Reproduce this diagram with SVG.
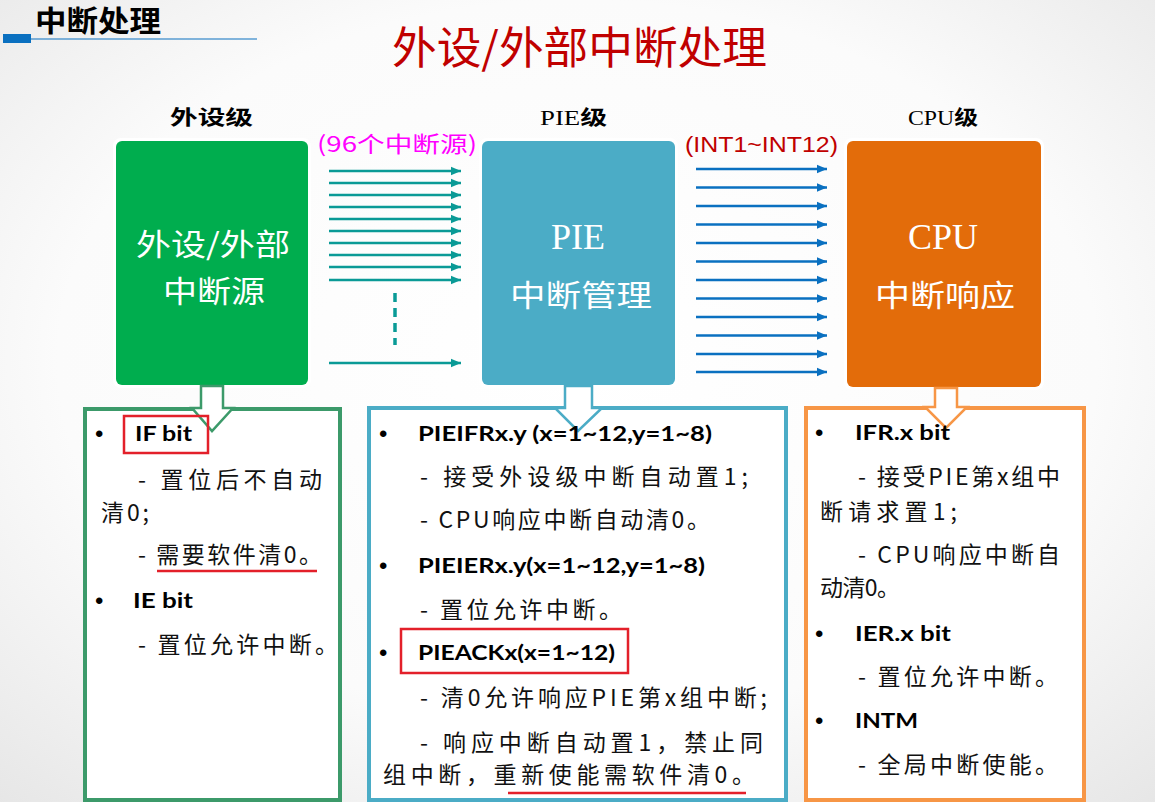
<svg xmlns="http://www.w3.org/2000/svg" width="1155" height="802" viewBox="0 0 1155 802">
<defs>
  <radialGradient id="bg" cx="0.5" cy="0.45" r="0.75">
    <stop offset="0" stop-color="#ffffff"/>
    <stop offset="0.6" stop-color="#fbfbfb"/>
    <stop offset="1" stop-color="#e6e6e6"/>
  </radialGradient>
  <marker id="ah-teal" markerUnits="userSpaceOnUse" markerWidth="10" markerHeight="10" refX="10" refY="5" orient="auto">
    <path d="M0,0.8 L10,5 L0,9.2 z" fill="#0a9a96"/>
  </marker>
  <marker id="ah-blue" markerUnits="userSpaceOnUse" markerWidth="10" markerHeight="10" refX="10" refY="5" orient="auto">
    <path d="M0,0.8 L10,5 L0,9.2 z" fill="#0a70c0"/>
  </marker>
</defs>
<style>
  .cjk { font-family: "Noto Sans CJK SC", sans-serif; }
  .lvl { font-family: "Liberation Serif", "Noto Sans CJK SC", serif; font-size: 20px; fill: #000; }
  .big { font-family: "Noto Sans CJK SC", sans-serif; fill: #fff; font-size: 30px; text-anchor: middle; }
  .bigser { font-family: "Liberation Serif", serif; fill: #fff; font-size: 36px; text-anchor: middle; }
  .hd { font-family: "Lato", "Liberation Sans", sans-serif; font-weight: bold; font-size: 21px; fill: #000; }
  .bl { font-family: "Liberation Sans", sans-serif; font-size: 24px; fill: #000; }
  .tx { font-family: "Noto Sans CJK SC", sans-serif; font-size: 23px; fill: #111; }
  .teal { stroke: #0a9a96; stroke-width: 2.5; fill: none; marker-end: url(#ah-teal); }
  .blue { stroke: #0a70c0; stroke-width: 2.5; fill: none; marker-end: url(#ah-blue); }
  .redbox { fill: none; stroke: #e3202a; stroke-width: 2.5; }
  .redline { stroke: #e3202a; stroke-width: 2.5; }
</style>
<rect x="0" y="0" width="1155" height="802" fill="url(#bg)"/>

<g id="header">
  <rect x="3" y="34" width="28" height="9" fill="#0a70c0"/>
  <line x1="31" y1="39" x2="257" y2="39" stroke="#0a70c0" stroke-width="1.2"/>
  <text x="35" y="32" class="cjk" font-size="29" font-weight="bold" fill="#000" textLength="126" lengthAdjust="spacingAndGlyphs">中断处理</text>
</g>

<g id="title">
  <text x="392" y="64" class="cjk" font-size="44" fill="#c00000" textLength="375" lengthAdjust="spacingAndGlyphs">外设/外部中断处理</text>
</g>

<g id="level-labels">
  <text x="170" y="125" class="lvl" font-weight="bold" textLength="83" lengthAdjust="spacingAndGlyphs">外设级</text>
  <text x="540" y="125" class="lvl" textLength="67" lengthAdjust="spacingAndGlyphs">PIE<tspan font-weight="bold">级</tspan></text>
  <text x="908" y="125" class="lvl" textLength="70" lengthAdjust="spacingAndGlyphs">CPU<tspan font-weight="bold">级</tspan></text>
  <text x="317" y="152" class="cjk" font-size="22" fill="#ff00ff" textLength="160" lengthAdjust="spacingAndGlyphs">(96个中断源)</text>
  <text x="685" y="152" font-family="Liberation Sans, sans-serif" font-size="22" fill="#c00000" textLength="153" lengthAdjust="spacingAndGlyphs">(INT1~INT12)</text>
</g>

<g id="node-periph">
  <rect x="113" y="138" width="198" height="250" rx="8" fill="#ffffff"/>
  <rect x="116" y="141" width="192" height="244" rx="6" fill="#00ad4e"/>
  <text x="213" y="255" class="big" textLength="154" lengthAdjust="spacingAndGlyphs">外设/外部</text>
  <text x="214" y="302" class="big" textLength="102" lengthAdjust="spacingAndGlyphs">中断源</text>
</g>

<g id="node-pie">
  <rect x="479" y="138" width="199" height="250" rx="8" fill="#ffffff"/>
  <rect x="482" y="141" width="193" height="244" rx="6" fill="#4bacc6"/>
  <text x="578" y="249" class="bigser">PIE</text>
  <text x="581" y="306" class="big" textLength="142" lengthAdjust="spacingAndGlyphs">中断管理</text>
</g>

<g id="node-cpu">
  <rect x="844" y="138" width="200" height="252" rx="8" fill="#ffffff"/>
  <rect x="847" y="141" width="194" height="246" rx="6" fill="#e36c0a"/>
  <text x="943" y="249" class="bigser">CPU</text>
  <text x="945" y="306" class="big" textLength="140" lengthAdjust="spacingAndGlyphs">中断响应</text>
</g>

<g id="connectors">
  <line class="teal" x1="329" y1="171" x2="461" y2="171"/>
  <line class="teal" x1="329" y1="183" x2="461" y2="183"/>
  <line class="teal" x1="329" y1="195" x2="461" y2="195"/>
  <line class="teal" x1="329" y1="207" x2="461" y2="207"/>
  <line class="teal" x1="329" y1="219" x2="461" y2="219"/>
  <line class="teal" x1="329" y1="231" x2="461" y2="231"/>
  <line class="teal" x1="329" y1="243" x2="461" y2="243"/>
  <line class="teal" x1="329" y1="255" x2="461" y2="255"/>
  <line class="teal" x1="329" y1="267" x2="461" y2="267"/>
  <line class="teal" x1="329" y1="280" x2="461" y2="280"/>
  <line x1="395" y1="293" x2="395" y2="345" stroke="#0a9a96" stroke-width="3.5" stroke-dasharray="9,6"/>
  <line class="teal" x1="329" y1="363" x2="461" y2="363"/>

  <line class="blue" x1="696" y1="169" x2="827" y2="169"/>
  <line class="blue" x1="696" y1="187.5" x2="827" y2="187.5"/>
  <line class="blue" x1="696" y1="206" x2="827" y2="206"/>
  <line class="blue" x1="696" y1="224.5" x2="827" y2="224.5"/>
  <line class="blue" x1="696" y1="243" x2="827" y2="243"/>
  <line class="blue" x1="696" y1="261.5" x2="827" y2="261.5"/>
  <line class="blue" x1="696" y1="280" x2="827" y2="280"/>
  <line class="blue" x1="696" y1="298.5" x2="827" y2="298.5"/>
  <line class="blue" x1="696" y1="317" x2="827" y2="317"/>
  <line class="blue" x1="696" y1="335.5" x2="827" y2="335.5"/>
  <line class="blue" x1="696" y1="354" x2="827" y2="354"/>
  <line class="blue" x1="696" y1="372" x2="827" y2="372"/>
</g>

<g id="node-periph-detail">
  <rect x="85" y="409" width="255" height="391" fill="#ffffff" stroke="#3c9a6a" stroke-width="4"/>
  <path d="M201,386 L223,386 L223,408 L233,408 L212,431 L192,408 L201,408 Z" fill="#ffffff" stroke="#3c9a6a" stroke-width="2.5"/>
  <text x="95" y="442" class="bl">•</text>
  <text x="135" y="441" class="hd" textLength="57" lengthAdjust="spacingAndGlyphs">IF bit</text>
  <rect class="redbox" x="124" y="416" width="84" height="37"/>
  <text x="138" y="488" class="tx" textLength="184" lengthAdjust="spacing">- 置位后不自动</text>
  <text x="101" y="521" class="tx" textLength="48" lengthAdjust="spacing">清0;</text>
  <text x="138" y="563" class="tx" textLength="184" lengthAdjust="spacing">- 需要软件清0。</text>
  <line class="redline" x1="157" y1="571" x2="317" y2="571"/>
  <text x="95" y="609" class="bl">•</text>
  <text x="133" y="608" class="hd" textLength="60" lengthAdjust="spacingAndGlyphs">IE bit</text>
  <text x="138" y="653" class="tx" textLength="200" lengthAdjust="spacing">- 置位允许中断。</text>
</g>

<g id="node-pie-detail">
  <rect x="369" y="408" width="417" height="392" fill="#ffffff" stroke="#4bacc6" stroke-width="4"/>
  <path d="M565,386 L592,386 L592,408 L602,408 L578,431 L555,408 L565,408 Z" fill="#ffffff" stroke="#4bacc6" stroke-width="2.5"/>
  <text x="379" y="442" class="bl">•</text>
  <text x="418" y="441" class="hd" textLength="294" lengthAdjust="spacingAndGlyphs">PIEIFRx.y (x=1~12,y=1~8)</text>
  <text x="420" y="485" class="tx" textLength="328" lengthAdjust="spacing">- 接受外设级中断自动置1;</text>
  <text x="420" y="528" class="tx" textLength="290" lengthAdjust="spacing">- CPU响应中断自动清0。</text>
  <text x="379" y="574" class="bl">•</text>
  <text x="418" y="573" class="hd" textLength="287" lengthAdjust="spacingAndGlyphs">PIEIERx.y(x=1~12,y=1~8)</text>
  <text x="420" y="618" class="tx" textLength="202" lengthAdjust="spacing">- 置位允许中断。</text>
  <text x="379" y="661" class="bl">•</text>
  <text x="418" y="660" class="hd" textLength="197" lengthAdjust="spacingAndGlyphs">PIEACKx(x=1~12)</text>
  <rect class="redbox" x="401" y="629" width="227" height="44"/>
  <text x="420" y="706" class="tx" textLength="347" lengthAdjust="spacing">- 清0允许响应PIE第x组中断;</text>
  <text x="420" y="751" class="tx" textLength="343" lengthAdjust="spacing">- 响应中断自动置1，禁止同</text>
  <text x="383" y="783" class="tx" textLength="372" lengthAdjust="spacing">组中断，重新使能需软件清0。</text>
  <line class="redline" x1="508" y1="793" x2="746" y2="793"/>
</g>

<g id="node-cpu-detail">
  <rect x="806" y="408" width="278" height="392" fill="#ffffff" stroke="#f79646" stroke-width="4"/>
  <path d="M935,388 L957,388 L957,407 L967,407 L946,428 L925,407 L935,407 Z" fill="#ffffff" stroke="#f79646" stroke-width="2.5"/>
  <text x="815" y="441" class="bl">•</text>
  <text x="855" y="440" class="hd" textLength="95" lengthAdjust="spacingAndGlyphs">IFR.x bit</text>
  <text x="858" y="485" class="tx" textLength="202" lengthAdjust="spacing">- 接受PIE第x组中</text>
  <text x="820" y="520" class="tx" textLength="137" lengthAdjust="spacing">断请求置1;</text>
  <text x="858" y="563" class="tx" textLength="202" lengthAdjust="spacing">- CPU响应中断自</text>
  <text x="820" y="596" class="tx" textLength="80" lengthAdjust="spacing">动清0。</text>
  <text x="815" y="642" class="bl">•</text>
  <text x="855" y="641" class="hd" textLength="96" lengthAdjust="spacingAndGlyphs">IER.x bit</text>
  <text x="858" y="685" class="tx" textLength="200" lengthAdjust="spacing">- 置位允许中断。</text>
  <text x="815" y="729" class="bl">•</text>
  <text x="855" y="728" class="hd" textLength="63" lengthAdjust="spacingAndGlyphs">INTM</text>
  <text x="858" y="773" class="tx" textLength="200" lengthAdjust="spacing">- 全局中断使能。</text>
</g>
</svg>
